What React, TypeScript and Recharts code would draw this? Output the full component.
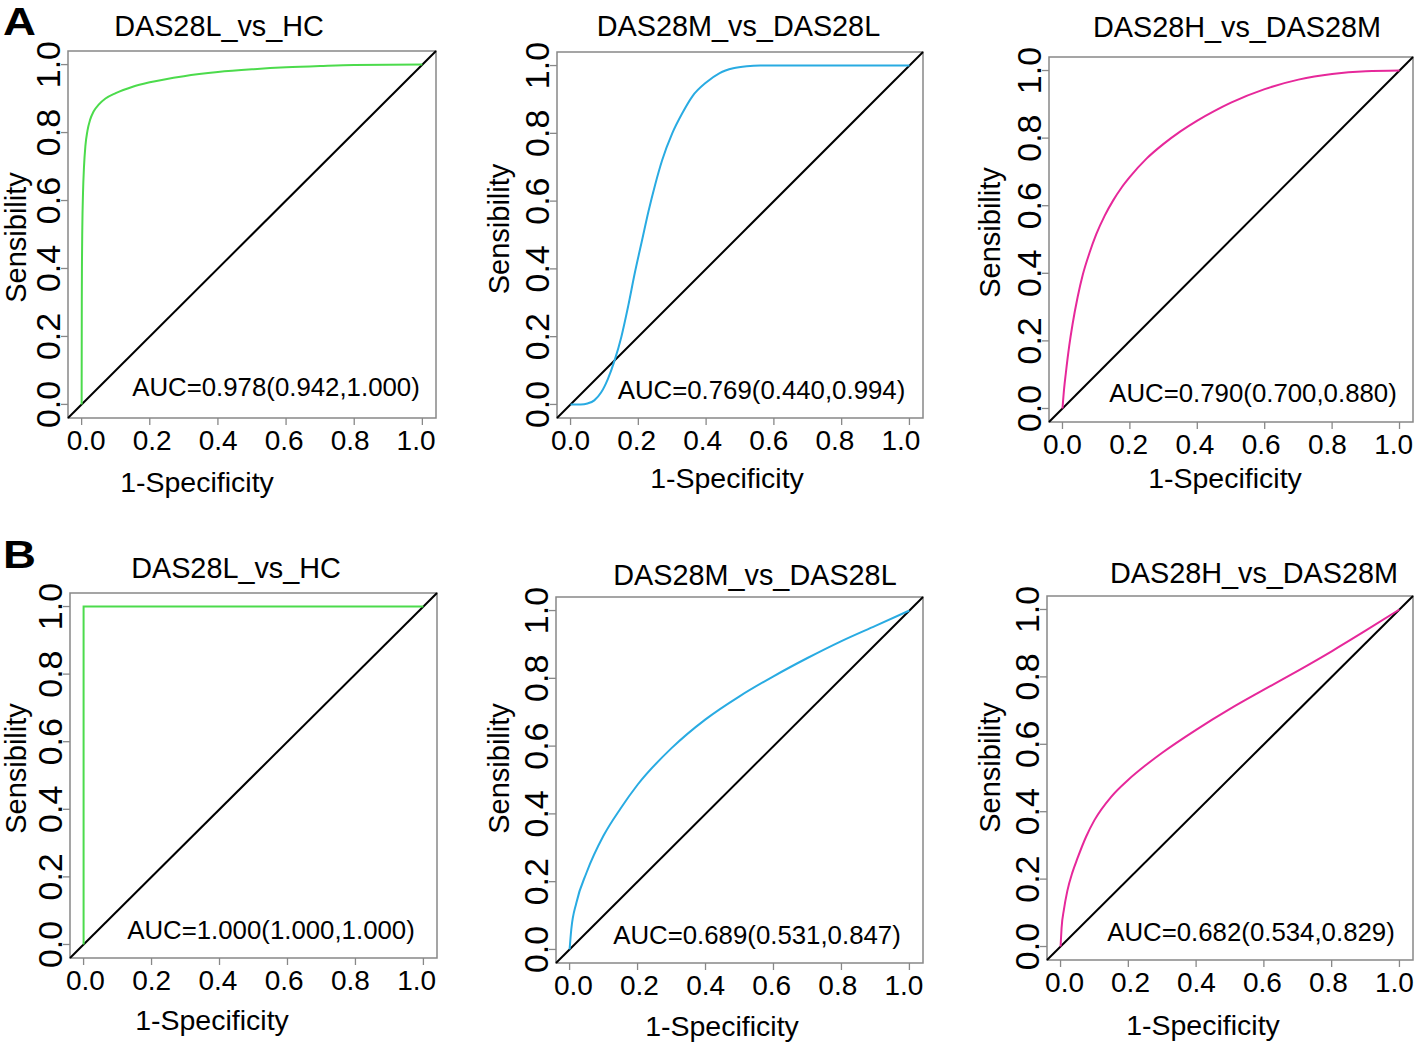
import { LineChart, Line, XAxis, YAxis, ReferenceLine, ReferenceArea } from 'recharts';

const FONT = '"Liberation Sans", Arial, Helvetica, sans-serif';

// shared axis ticks
const TICKS = [0, 0.2, 0.4, 0.6, 0.8, 1.0];
const DOMAIN: [number, number] = [-0.04, 1.04];

const TITLES = [
  'DAS28L_vs_HC',
  'DAS28M_vs_DAS28L',
  'DAS28H_vs_DAS28M',
  'DAS28L_vs_HC',
  'DAS28M_vs_DAS28L',
  'DAS28H_vs_DAS28M',
];
const AUC_LABELS = [
  'AUC=0.978(0.942,1.000)',
  'AUC=0.769(0.440,0.994)',
  'AUC=0.790(0.700,0.880)',
  'AUC=1.000(1.000,1.000)',
  'AUC=0.689(0.531,0.847)',
  'AUC=0.682(0.534,0.829)',
];
const PANEL_LETTERS = ['A', 'B'];

// ROC curves (1-specificity, sensitivity)
const a1X = [0, 0.0005, 0.001, 0.002, 0.004, 0.007, 0.011, 0.017, 0.025, 0.035, 0.05, 0.07, 0.1, 0.15, 0.2, 0.3, 0.4, 0.5, 0.6, 0.7, 0.8, 1.0];
const a1Y = [0, 0.3, 0.42, 0.52, 0.62, 0.7, 0.76, 0.805, 0.838, 0.862, 0.882, 0.9, 0.916, 0.935, 0.948, 0.966, 0.978, 0.986, 0.992, 0.996, 0.999, 1.0];

const a2X = [0, 0.03, 0.05, 0.07, 0.09, 0.11, 0.13, 0.15, 0.17, 0.19, 0.21, 0.23, 0.25, 0.27, 0.3, 0.33, 0.36, 0.4, 0.44, 0.48, 0.52, 0.56, 0.6, 0.8, 1.0];
const a2Y = [0, 0, 0.003, 0.012, 0.035, 0.075, 0.13, 0.2, 0.29, 0.39, 0.48, 0.57, 0.65, 0.72, 0.8, 0.86, 0.91, 0.95, 0.978, 0.992, 0.998, 1.0, 1.0, 1.0, 1.0];

const a3X = [0, 0.005, 0.01, 0.02, 0.03, 0.045, 0.06, 0.08, 0.1, 0.125, 0.15, 0.175, 0.2, 0.25, 0.3, 0.35, 0.4, 0.45, 0.5, 0.6, 0.7, 0.8, 0.9, 1.0];
const a3Y = [0, 0.06, 0.105, 0.185, 0.25, 0.33, 0.395, 0.46, 0.515, 0.57, 0.615, 0.653, 0.685, 0.74, 0.783, 0.82, 0.852, 0.88, 0.905, 0.945, 0.973, 0.99, 0.998, 1.0];

const b1X = [0, 0, 1.0];
const b1Y = [0, 1.0, 1.0];

const b2X = [0, 0.005, 0.02, 0.05, 0.1, 0.15, 0.2, 0.3, 0.4, 0.5, 0.6, 0.7, 0.8, 0.9, 1.0];
const b2Y = [0, 0.059, 0.138, 0.227, 0.336, 0.416, 0.486, 0.594, 0.679, 0.747, 0.806, 0.86, 0.91, 0.955, 1.0];

const b3X = [0, 0.003, 0.01, 0.02, 0.035, 0.05, 0.075, 0.1, 0.15, 0.2, 0.25, 0.3, 0.4, 0.5, 0.6, 0.7, 0.8, 0.9, 1.0];
const b3Y = [0, 0.055, 0.11, 0.165, 0.22, 0.262, 0.325, 0.375, 0.445, 0.495, 0.537, 0.575, 0.643, 0.705, 0.762, 0.818, 0.876, 0.937, 1.0];

const GREEN = '#4cdb4c';
const BLUE = '#29abe2';
const MAGENTA = '#e6289a';

const zip = (xs: number[], ys: number[]) => xs.map((x, i) => ({ x, y: ys[i] }));

const CURVES = [
  { data: zip(a1X, a1Y), color: GREEN, type: 'monotone' },
  { data: zip(a2X, a2Y), color: BLUE, type: 'monotone' },
  { data: zip(a3X, a3Y), color: MAGENTA, type: 'monotone' },
  { data: zip(b1X, b1Y), color: GREEN, type: 'linear' },
  { data: zip(b2X, b2Y), color: BLUE, type: 'monotone' },
  { data: zip(b3X, b3Y), color: MAGENTA, type: 'monotone' },
];

// layout: plot box + where the texts sit (page pixels)
const LAYOUT = [
  { box: { left: 68, top: 51, w: 368, h: 367 }, shift: [4.6, -10.9], title: [219, 36], auc: [276, 396], xlab: [197, 492], ylab: [25.5, 237.5] },
  { box: { left: 557, top: 52, w: 366, h: 366 }, shift: [0, -8.5], title: [738.5, 36], auc: [761.5, 399], xlab: [727, 488], ylab: [509, 229] },
  { box: { left: 1049, top: 57, w: 364, h: 365 }, shift: [0, -5.8], title: [1237, 37], auc: [1253, 402], xlab: [1225, 488], ylab: [1000, 232.5] },
  { box: { left: 70, top: 593, w: 367, h: 365 }, shift: [1.8, -8.6], title: [236, 578], auc: [271, 939], xlab: [212, 1030], ylab: [25.5, 768.5] },
  { box: { left: 556, top: 597, w: 367, h: 366 }, shift: [3.8, -9.3], title: [755, 585], auc: [757, 944], xlab: [722, 1036], ylab: [509, 768.5] },
  { box: { left: 1047, top: 596, w: 366, h: 364 }, shift: [4, -9.1], title: [1254, 583], auc: [1251, 940.7], xlab: [1203, 1035], ylab: [1000, 767.5] },
];
const LETTER_POS = [[3, 35], [3, 568]];

const Y_AXIS_W = 60;
const X_AXIS_H = 50;
const TOP_PAD = 10;
const RIGHT_PAD = 3;

function YTick(props: any) {
  const { x, y, payload } = props;
  return (
    <text
      x={x}
      y={y}
      transform={`rotate(-90 ${x} ${y})`}
      textAnchor="middle"
      fontSize={34}
      fontFamily={FONT}
      fill="#000"
    >
      {Number(payload.value).toFixed(1)}
    </text>
  );
}

function makeXTick(shift: number[]) {
  return function XTick(props: any) {
    const { x, y, payload } = props;
    const v = Number(payload.value);
    return (
      <text
        x={x + shift[0] + shift[1] * v}
        y={y}
        dy="0.71em"
        textAnchor="middle"
        fontSize={28}
        fontFamily={FONT}
        fill="#000"
      >
        {v.toFixed(1)}
      </text>
    );
  };
}

function RocPanel({ idx }: { idx: number }) {
  const { box, shift } = LAYOUT[idx];
  const curve = CURVES[idx];
  const XTick = makeXTick(shift);
  return (
    <div style={{ position: 'absolute', left: box.left - Y_AXIS_W, top: box.top - TOP_PAD }}>
      <LineChart
        width={box.w + Y_AXIS_W + RIGHT_PAD}
        height={box.h + TOP_PAD + X_AXIS_H}
        data={curve.data}
        margin={{ top: TOP_PAD, right: RIGHT_PAD, bottom: 0, left: 0 }}
      >
        <XAxis
          type="number"
          dataKey="x"
          domain={DOMAIN}
          allowDataOverflow
          ticks={TICKS}
          interval={0}
          height={X_AXIS_H}
          axisLine={false}
          tickLine={{ stroke: '#888', strokeWidth: 1.3 }}
          tickSize={7}
          tickMargin={5}
          tick={<XTick />}
        />
        <YAxis
          type="number"
          domain={DOMAIN}
          allowDataOverflow
          ticks={TICKS}
          interval={0}
          width={Y_AXIS_W}
          axisLine={false}
          tickLine={{ stroke: '#888', strokeWidth: 1.3 }}
          tickSize={7}
          tickMargin={1}
          tick={<YTick />}
        />
        <ReferenceArea
          x1={DOMAIN[0]}
          x2={DOMAIN[1]}
          y1={DOMAIN[0]}
          y2={DOMAIN[1]}
          fill="none"
          stroke="#888"
          strokeWidth={1.5}
          ifOverflow="visible"
        />
        <ReferenceLine
          segment={[{ x: DOMAIN[0], y: DOMAIN[0] }, { x: DOMAIN[1], y: DOMAIN[1] }]}
          stroke="#000"
          strokeWidth={2}
          ifOverflow="visible"
        />
        <Line
          type={curve.type as any}
          dataKey="y"
          stroke={curve.color}
          strokeWidth={2}
          dot={false}
          activeDot={false}
          isAnimationActive={false}
        />
      </LineChart>
    </div>
  );
}

export default function App() {
  return (
    <div
      style={{
        position: 'absolute',
        left: 0,
        top: 0,
        width: 1416,
        height: 1047,
        background: '#fff',
        overflow: 'hidden',
        fontFamily: FONT,
      }}
    >
      {LAYOUT.map((_, i) => (
        <RocPanel key={i} idx={i} />
      ))}
      <svg
        width={1416}
        height={1047}
        style={{ position: 'absolute', left: 0, top: 0, pointerEvents: 'none' }}
        fontFamily={FONT}
      >
        {PANEL_LETTERS.map((l, i) => (
          <text
            key={l}
            x={0}
            y={0}
            transform={`translate(${LETTER_POS[i][0]} ${LETTER_POS[i][1]}) scale(1.2 1)`}
            fontSize={38}
            fontWeight="bold"
            fill="#000"
          >
            {l}
          </text>
        ))}
        {LAYOUT.map((p, i) => (
          <g key={i}>
            <text x={p.title[0]} y={p.title[1]} fontSize={28.8} textAnchor="middle" fill="#000">
              {TITLES[i]}
            </text>
            <text x={p.auc[0]} y={p.auc[1]} fontSize={25.8} textAnchor="middle" fill="#000">
              {AUC_LABELS[i]}
            </text>
            <text x={p.xlab[0]} y={p.xlab[1]} fontSize={28.5} textAnchor="middle" fill="#000">
              1-Specificity
            </text>
            <text
              x={p.ylab[0]}
              y={p.ylab[1]}
              fontSize={29}
              textAnchor="middle"
              fill="#000"
              transform={`rotate(-90 ${p.ylab[0]} ${p.ylab[1]})`}
            >
              Sensibility
            </text>
          </g>
        ))}
      </svg>
    </div>
  );
}
